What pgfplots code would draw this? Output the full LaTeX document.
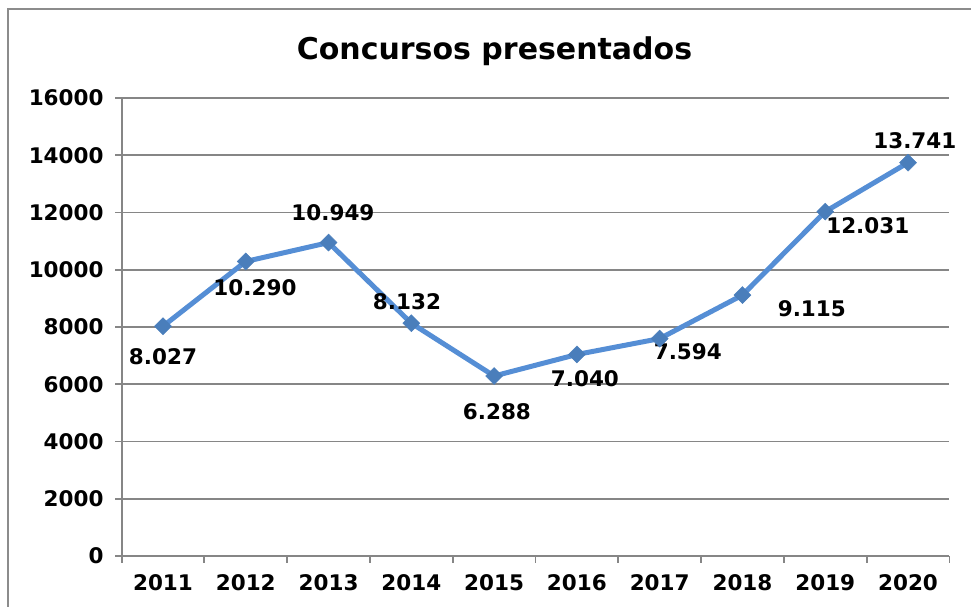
\documentclass[border=0pt]{standalone}
\usepackage{fontspec}
\setmainfont{DejaVu Sans}
\usepackage{pgfplots}
\pgfplotsset{compat=1.18}
\definecolor{lineblue}{RGB}{85,142,213}
\definecolor{markblue}{RGB}{74,126,187}
\definecolor{gridgray}{RGB}{134,134,134}
\definecolor{framegray}{RGB}{140,140,140}

\begin{document}
\begin{tikzpicture}[x=1pt,y=1pt]
\useasboundingbox (0,0) rectangle (971,607);
\draw[framegray, line width=2pt] (8,-10) -- (8,598) -- (980,598);
\node[font=\fontsize{30}{34}\selectfont\bfseries] at (494.5,556) {Concursos presentados};
\begin{axis}[
    at={(121.6pt,51pt)}, anchor=south west,
    scale only axis,
    width=827.8pt, height=458pt,
    xmin=-0.5, xmax=9.5,
    ymin=0, ymax=16000,
    ytick={0,2000,...,16000},
    xtick={-0.5,0.5,...,9.5},
    x tick label as interval,
    xticklabels={2011,2012,2013,2014,2015,2016,2017,2018,2019,2020},
    scaled y ticks=false,
    /pgf/number format/assume math mode=true,
    /pgf/number format/1000 sep={},
    ymajorgrids=true,
    grid style={gridgray, line width=1.8pt},
    axis line style={gridgray, line width=1.8pt},
    axis x line*=bottom,
    axis y line*=left,
    tick align=outside,
    major tick length=6.5pt,
    tick style={gridgray, line width=1.8pt},
    tick label style={font=\fontsize{21.5}{25}\selectfont\bfseries},
    yticklabel style={xshift=-8pt},
    xticklabel style={yshift=-9pt},
    clip=false,
]
\addplot[lineblue, line width=5pt, mark=square*, mark size=6pt,
  mark options={markblue, fill=markblue, rotate=45, line width=0.5pt}] coordinates {
    (0, 8027)
    (1, 10290)
    (2, 10949)
    (3, 8132)
    (4, 6288)
    (5, 7040)
    (6, 7594)
    (7, 9115)
    (8, 12031)
    (9, 13741)
};
\begin{scope}[every node/.style={font=\fontsize{21.5}{25}\selectfont\bfseries}]
\node at (axis cs:0,6946) {8.027};
\node at (axis cs:1.111,9388) {10.290};
\node at (axis cs:2.053,12006) {10.949};
\node at (axis cs:2.947,8900) {8.132};
\node at (axis cs:4.034,5026) {6.288};
\node at (axis cs:5.097,6212) {7.040};
\node at (axis cs:6.34,7155) {7.594};
\node at (axis cs:7.838,8655) {9.115};
\node at (axis cs:8.514,11552) {12.031};
\node at (axis cs:9.082,14518) {13.741};
\end{scope}
\end{axis}
\end{tikzpicture}
\end{document}
